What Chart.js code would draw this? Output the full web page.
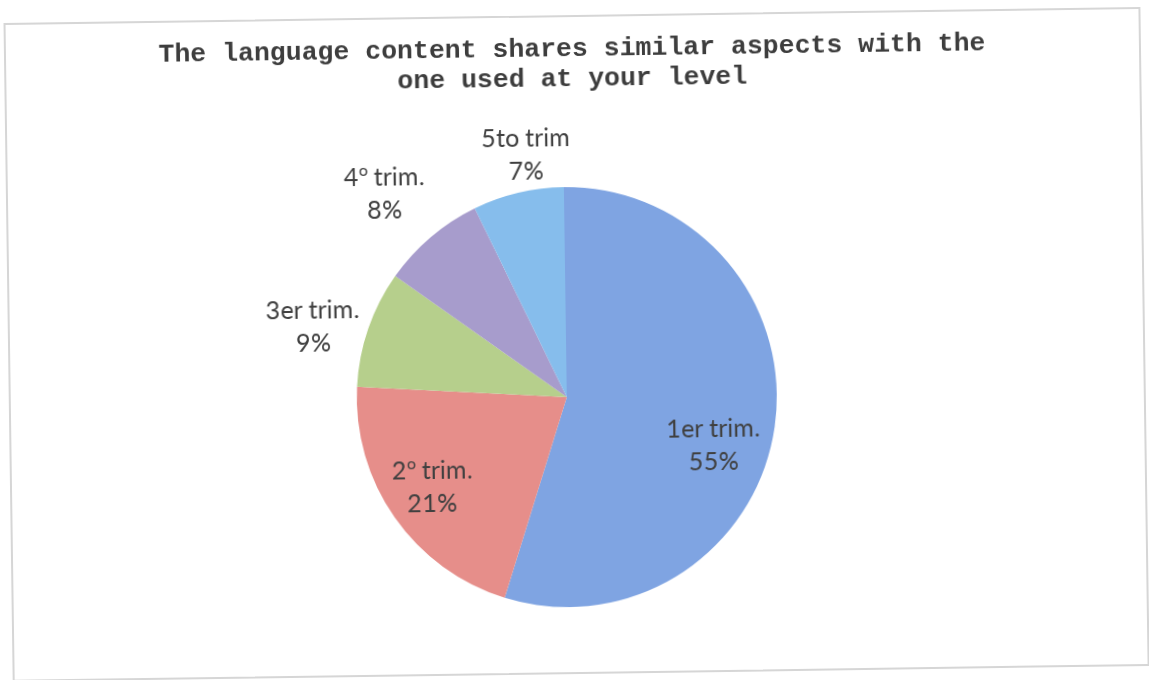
<!DOCTYPE html>
<html>
<head>
<meta charset="utf-8">
<script src="https://cdn.jsdelivr.net/npm/chart.js@4.4.1/dist/chart.umd.min.js"></script>
<style>
  /* Label face: Lato for text, with an underlined ordinal indicator taken from Open Sans */
  @font-face { font-family: 'SliceLabel'; src: local('Lato Regular'), local('Lato-Regular'), local('Lato'); }
  @font-face { font-family: 'SliceLabel'; src: local('Open Sans Regular'), local('OpenSans-Regular'), local('Open Sans'); unicode-range: U+00BA; }
  html, body { margin: 0; padding: 0; background: #fff; overflow: hidden; }
  #sheet { position: absolute; left: 0; top: 0; width: 1149px; height: 680px;
           transform: rotate(-0.8deg); transform-origin: 574px 340px; }
  #frame { position: absolute; left: 8px; top: 15px; width: 1137px; height: 659px;
           border: 2px solid #d6d6d6; box-sizing: border-box; }
  canvas { position: absolute; left: 0; top: 0; }
</style>
</head>
<body>
<div id="sheet">
  <div id="frame"></div>
  <canvas id="c" width="1149" height="680"></canvas>
</div>
<script>
// Chart text and values
const titleLines = ['The language content shares similar aspects with the', 'one used at your level'];
const categories = ['1er trim.', '2º trim.', '3er trim.', '4º trim.', '5to trim'];
const shares = [55, 21, 9, 8, 7];
const sliceColors = ['#7fa4e2', '#e68e8a', '#b6cf8c', '#a79ccc', '#86bdec'];

// Label placement per slice: radius as a fraction of the pie radius, and angular nudge in degrees
const labelPlacement = [
  { r: 0.733, shift: 10 },
  { r: 0.771, shift: 1.3 },
  { r: 1.254, shift: -3.5 },
  { r: 1.30, shift: -1.6 },
  { r: 1.171, shift: 3.8 }
];

const labelFont = '25px SliceLabel, Lato, "Open Sans", sans-serif';

const titlePlugin = {
  id: 'twoLineTitle',
  afterDraw(chart) {
    const ctx = chart.ctx;
    ctx.save();
    ctx.font = 'bold 26.5px "Liberation Mono", "Courier New", monospace';
    ctx.fillStyle = '#3d3d3d';
    ctx.textAlign = 'center';
    ctx.textBaseline = 'middle';
    ctx.fillText(titleLines[0], 576, 49);
    ctx.fillText(titleLines[1], 576, 79);
    ctx.restore();
  }
};

const sliceLabels = {
  id: 'sliceLabels',
  afterDatasetsDraw(chart) {
    const ctx = chart.ctx;
    const meta = chart.getDatasetMeta(0);
    ctx.save();
    ctx.font = labelFont;
    ctx.fillStyle = '#404040';
    ctx.textAlign = 'center';
    ctx.textBaseline = 'middle';
    meta.data.forEach((arc, i) => {
      const p = arc.getProps(['x', 'y', 'startAngle', 'endAngle', 'outerRadius'], true);
      const place = labelPlacement[i];
      const a = (p.startAngle + p.endAngle) / 2 + place.shift * Math.PI / 180;
      const cx = p.x + Math.cos(a) * p.outerRadius * place.r;
      const cy = p.y + Math.sin(a) * p.outerRadius * place.r;
      ctx.fillText(categories[i], cx, cy - 16.5);
      ctx.fillText(shares[i] + '%', cx, cy + 16.5);
    });
    ctx.restore();
  }
};

function drawChart() {
  new Chart(document.getElementById('c'), {
    type: 'pie',
    data: {
      labels: categories,
      datasets: [{
        data: shares,
        backgroundColor: sliceColors,
        borderWidth: 0
      }]
    },
    options: {
      responsive: false,
      animation: false,
      layout: { padding: { top: 187, bottom: 73, left: 0, right: 17 } },
      plugins: {
        legend: { display: false },
        tooltip: { enabled: false },
        title: { display: false }
      }
    },
    plugins: [sliceLabels, titlePlugin]
  });
}

Promise.all([
  document.fonts.load(labelFont, 'trim. º %'),
  document.fonts.load('bold 26.5px "Liberation Mono"', 'The')
]).then(drawChart, drawChart);
</script>
</body>
</html>
